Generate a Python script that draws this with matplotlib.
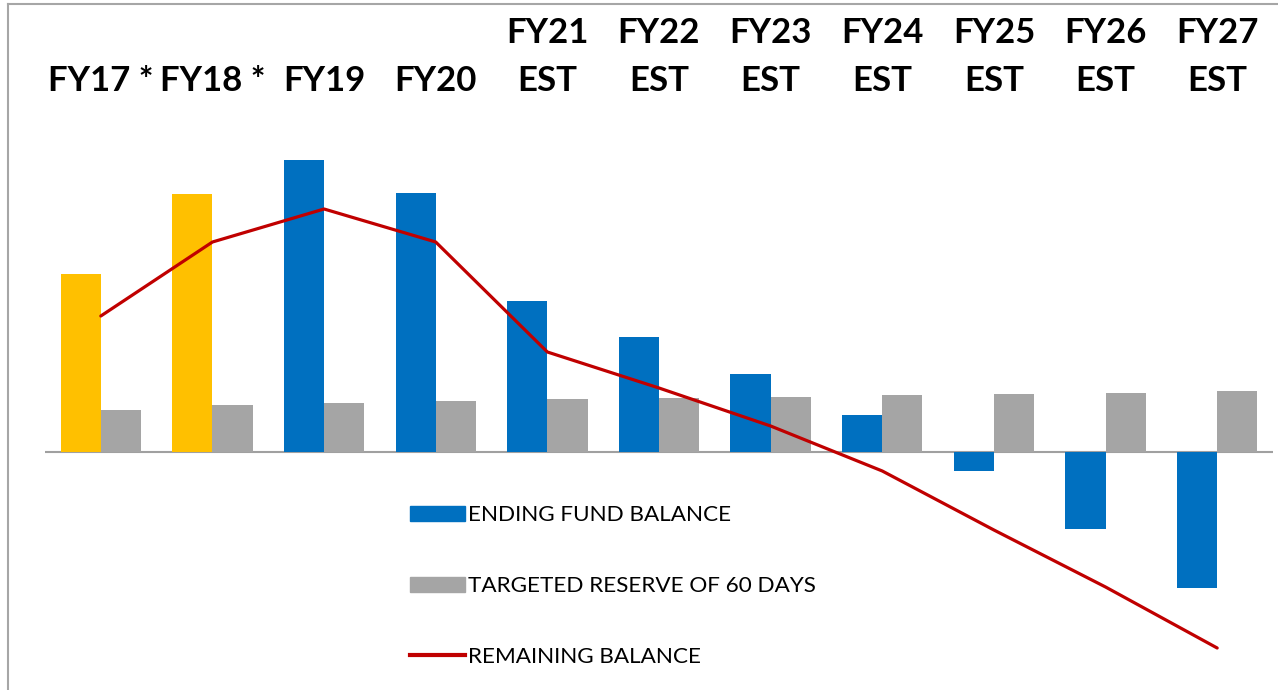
import numpy as np
import matplotlib.pyplot as plt
from matplotlib.lines import Line2D
from matplotlib.patches import Patch

# values in $M
years = ["FY17 *", "FY18 *", "FY19", "FY20", "FY21\nEST", "FY22\nEST", "FY23\nEST",
         "FY24\nEST", "FY25\nEST", "FY26\nEST", "FY27\nEST"]
ending_balance = [17.8, 25.8, 29.2, 25.9, 15.1, 11.5, 7.8, 3.7, -1.9, -7.7, -13.6]
target_reserve = [4.2, 4.7, 4.9, 5.1, 5.3, 5.4, 5.5, 5.7, 5.8, 5.9, 6.1]
remaining = [13.6, 21.0, 24.3, 21.0, 10.0, 6.4, 2.6, -1.9, -7.8, -13.5, -19.6]
actual = [True, True, False, False, False, False, False, False, False, False, False]

BLUE = "#0070C0"
GOLD = "#FFC000"
GREY = "#A5A5A5"
RED = "#C00000"

plt.rcParams['font.family'] = ['Lato', 'DejaVu Sans']

fig = plt.figure(figsize=(12.78, 6.9), dpi=100)
ax = fig.add_axes([45 / 1278, 0, 1228 / 1278, 1])

x = np.arange(len(years))
w = 0.36
bar_colors = [GOLD if a else BLUE for a in actual]
ax.bar(x - w / 2, ending_balance, w, color=bar_colors, zorder=2)
ax.bar(x + w / 2, target_reserve, w, color=GREY, zorder=2)
ax.plot(x, remaining, color=RED, lw=2.3, zorder=3, solid_capstyle='round')

ax.axhline(0, color="#a0a0a0", lw=1.5, zorder=1)

ax.set_xlim(-0.5, len(years) - 0.5)
ax.set_ylim(-23.8, 45.2)
ax.axis('off')

# category labels along the top
for xi, lab in zip(x, years):
    lines = lab.split("\n")
    if len(lines) == 1:
        ax.text(xi, 37.1, lines[0], ha='center', va='center', fontsize=25, fontweight='bold')
    else:
        ax.text(xi, 41.9, lines[0], ha='center', va='center', fontsize=25, fontweight='bold')
        ax.text(xi, 37.1, lines[1], ha='center', va='center', fontsize=25, fontweight='bold')

handles = [Patch(color=BLUE), Patch(color=GREY), Line2D([], [], color=RED, lw=3)]
labels = ["ENDING FUND BALANCE", "TARGETED RESERVE OF 60 DAYS", "REMAINING BALANCE"]
fig.legend(handles, labels, loc='upper left', bbox_to_anchor=(410 / 1278, 1 - 505 / 690),
           frameon=False, fontsize=16.2, handlelength=2.45, handleheight=0.65,
           handletextpad=0.12, labelspacing=2.27, borderpad=0, borderaxespad=0)

# outer chart frame (top and left edges)
fig.add_artist(Line2D([8 / 1278, 1], [1 - 4 / 690, 1 - 4 / 690], color="#a6a6a6", lw=1.5))
fig.add_artist(Line2D([8 / 1278, 8 / 1278], [0, 1 - 4 / 690], color="#a6a6a6", lw=1.5))

fig.savefig("out.png", dpi=100)
